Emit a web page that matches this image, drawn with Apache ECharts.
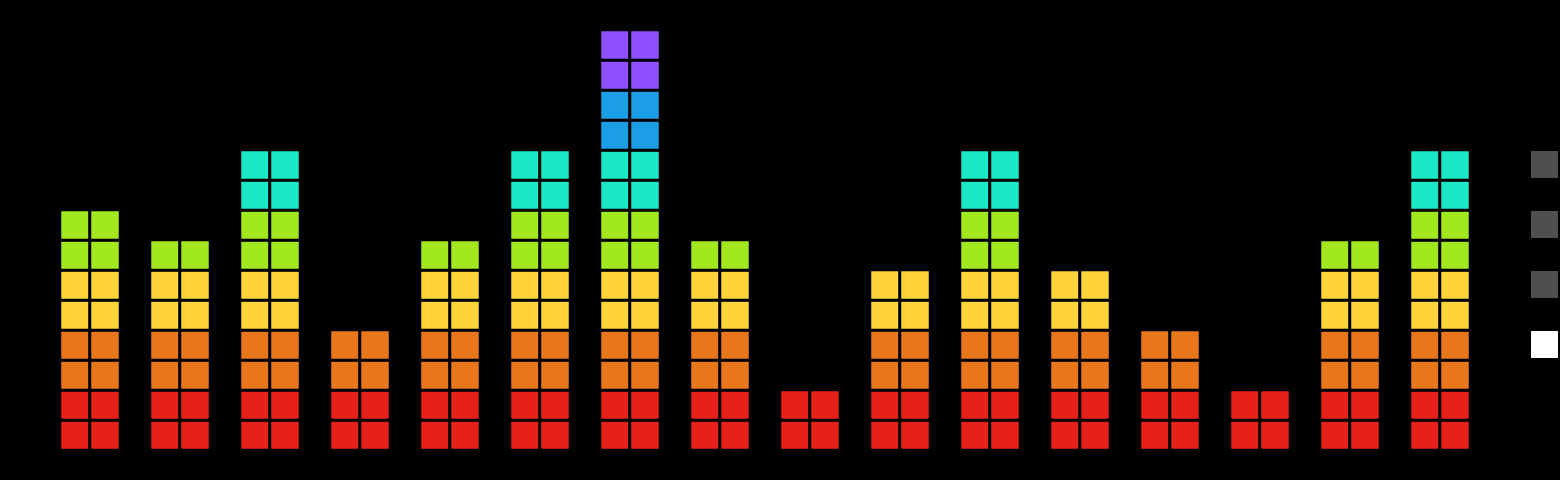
<!DOCTYPE html>
<html>
<head>
<meta charset="utf-8">
<style>html,body{margin:0;padding:0;background:#000;}#main{width:1560px;height:480px;}</style>
<script src="https://cdn.jsdelivr.net/npm/echarts@6/dist/echarts.min.js"></script>
</head>
<body>
<div id="main"></div>
<script>
// Columns (16) and their heights in blocks
var categories = ['1','2','3','4','5','6','7','8','9','10','11','12','13','14','15','16'];
var heights = [8, 7, 10, 4, 7, 10, 14, 7, 2, 6, 10, 6, 4, 2, 7, 10];
// Colour of each block row, bottom to top
var levelColors = ['#e6211a','#e6211a','#e8771b','#e8771b','#ffd43a','#ffd43a',
                   '#a1e81e','#a1e81e','#1ce8c8','#1ce8c8','#1c9ee6','#1c9ee6','#9150ff','#9150ff'];
var legendNames = ['s1','s2','s3','s4'];
var legendColors = ['#ffffff','#ffffff','#ffffff','#ffffff'];
var legendSelected = [false, false, false, true];

var xCats = [];
categories.forEach(function (c) { xCats.push(c + 'a', c + 'b', c + '_'); });
var yCats = levelColors.map(function (_, i) { return String(i); });

var cells = [];
heights.forEach(function (h, i) {
  for (var r = 0; r < h; r++) {
    var st = { color: levelColors[r] };
    cells.push({ value: [3 * i, r, r], itemStyle: st });
    cells.push({ value: [3 * i + 1, r, r], itemStyle: st });
  }
});

var series = [{
  type: 'heatmap',
  data: cells,
  itemStyle: { borderColor: '#000', borderWidth: 3 },
  emphasis: { disabled: true },
  silent: true
}];
var selected = {};
var legendData = [];
legendNames.forEach(function (n, i) {
  series.push({ type: 'bar', name: n, data: [], itemStyle: { color: legendColors[i], opacity: 1 } });
  selected[n] = legendSelected[i];
  legendData.push({ name: n, itemStyle: { color: legendColors[i], opacity: 1 } });
});

var chart = echarts.init(document.getElementById('main'));
chart.setOption({
  backgroundColor: '#000',
  animation: false,
  grid: { left: 60, top: 30, width: 1440, height: 420 },
  xAxis: { type: 'category', data: xCats, show: false },
  yAxis: { type: 'category', data: yCats, show: false },
  legend: {
    orient: 'vertical', left: 1526, top: 146,
    itemWidth: 27, itemHeight: 27, itemGap: 33,
    icon: 'rect', inactiveColor: '#4f4f4f', inactiveBorderColor: '#4f4f4f',
    data: legendData, selected: selected,
    textStyle: { color: '#000', fontSize: 12 }
  },
  series: series
});
</script>
</body>
</html>
